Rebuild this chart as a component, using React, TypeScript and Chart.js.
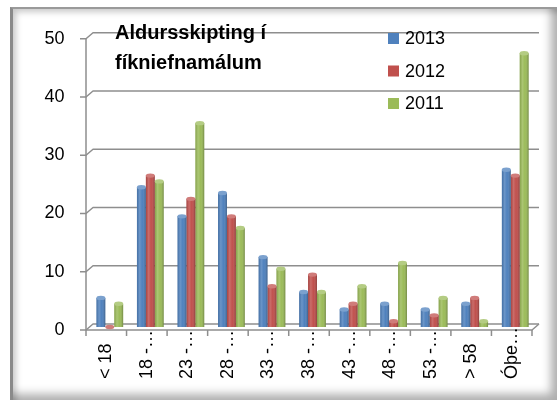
import React, { useEffect, useRef } from "react";
import { Chart, registerables } from "chart.js";

Chart.register(...registerables);

const categories = ["< 18", "18 -…", "23 -…", "28 -…", "33 -…", "38 -…", "43 -…", "48 -…", "53 -…", "> 58", "Óþe…"];
const seriesNames = ["2013", "2012", "2011"];
const values2013 = [5, 24, 19, 23, 12, 6, 3, 4, 3, 4, 27];
const values2012 = [0, 26, 22, 19, 7, 9, 4, 1, 2, 5, 26];
const values2011 = [4, 25, 35, 17, 10, 6, 7, 11, 5, 1, 47];
const seriesColors = ["#4F81BD", "#C0504D", "#9BBB59"];
const yTicks = [0, 10, 20, 30, 40, 50];
const titleLines = ["Aldursskipting í", "fíkniefnamálum"];

const FONT = "'Liberation Sans', Arial, sans-serif";
const DX = 3.5;
const DY = 3;

function lighten(hex: string, amt: number): string {
  const n = parseInt(hex.slice(1), 16);
  const r = (n >> 16) & 255, g = (n >> 8) & 255, b = n & 255;
  const f = (c: number) => Math.round(c + (255 - c) * amt);
  return `rgb(${f(r)},${f(g)},${f(b)})`;
}

const decorPlugin = {
  id: "decor3d",
  beforeDatasetsDraw(chart: any) {
    const { ctx, chartArea, scales } = chart;
    const { left, right } = chartArea;
    const x = scales.x, y = scales.y;
    ctx.save();
    ctx.strokeStyle = "#8e8e8e";
    ctx.lineWidth = 1.5;
    ctx.lineJoin = "round";
    yTicks.forEach((v) => {
      const ym = y.getPixelForValue(v);
      ctx.beginPath();
      ctx.moveTo(left - DX - 6, ym + DY);
      ctx.lineTo(left - DX, ym + DY);
      ctx.lineTo(left + DX, ym - DY);
      ctx.lineTo(right + DX, ym - DY);
      ctx.stroke();
    });
    const y0 = y.getPixelForValue(0);
    const yTop = y.getPixelForValue(yTicks[yTicks.length - 1]);
    ctx.beginPath();
    ctx.moveTo(left - DX, yTop + DY);
    ctx.lineTo(left - DX, y0 + DY);
    ctx.stroke();
    ctx.beginPath();
    ctx.moveTo(left - DX, y0 + DY);
    ctx.lineTo(right - DX, y0 + DY);
    ctx.lineTo(right + DX, y0 - DY);
    ctx.stroke();
    ctx.beginPath();
    for (let i = 0; i <= categories.length; i++) {
      const xb = x.getPixelForValue(i - 0.5) - DX;
      ctx.moveTo(xb, y0 + DY);
      ctx.lineTo(xb, y0 + DY + 6);
    }
    ctx.stroke();
    ctx.restore();
  },
  afterDatasetsDraw(chart: any) {
    const { ctx } = chart;
    ctx.save();
    chart.data.datasets.forEach((ds: any, di: number) => {
      const meta = chart.getDatasetMeta(di);
      const color = seriesColors[di];
      meta.data.forEach((el: any) => {
        const l = el.x - el.width / 2;
        const w = el.width;
        const h = el.base - el.y;
        const g = ctx.createLinearGradient(l, 0, l + w, 0);
        g.addColorStop(0, "rgba(0,0,0,0.12)");
        g.addColorStop(0.3, "rgba(255,255,255,0.16)");
        g.addColorStop(0.6, "rgba(255,255,255,0.0)");
        g.addColorStop(1, "rgba(0,0,0,0.28)");
        ctx.fillStyle = g;
        if (h > 0) ctx.fillRect(l, el.y, w, h);
        ctx.beginPath();
        ctx.ellipse(el.x, el.y, w / 2, 2.2, 0, 0, Math.PI * 2);
        ctx.fillStyle = lighten(color, 0.25);
        ctx.fill();
      });
    });
    ctx.restore();
  },
  afterDraw(chart: any) {
    const { ctx, scales } = chart;
    const x = scales.x;
    ctx.save();
    ctx.fillStyle = "#000";
    ctx.font = `18px ${FONT}`;
    ctx.textAlign = "left";
    ctx.textBaseline = "middle";
    categories.forEach((c, i) => {
      const cx = x.getPixelForValue(i) - DX;
      ctx.save();
      ctx.translate(cx, 379);
      ctx.rotate(-Math.PI / 2);
      ctx.fillText(c, 0, 0);
      ctx.restore();
    });
    ctx.font = `bold 20px ${FONT}`;
    ctx.textBaseline = "alphabetic";
    ctx.fillText(titleLines[0], 115, 39);
    ctx.fillText(titleLines[1], 115, 68.5);
    ctx.font = `18px ${FONT}`;
    ctx.textBaseline = "middle";
    seriesNames.forEach((s, i) => {
      const cy = 38.5 + i * 32.5;
      ctx.fillStyle = seriesColors[i];
      ctx.fillRect(388, cy - 5.5, 11, 11);
      ctx.fillStyle = "#000";
      ctx.fillText(s, 405, cy + 1);
    });
    ctx.restore();
  },
};

export default function App() {
  const ref = useRef<HTMLCanvasElement | null>(null);
  useEffect(() => {
    if (!ref.current) return;
    const chart = new Chart(ref.current, {
      type: "bar",
      data: {
        labels: categories,
        datasets: [values2013, values2012, values2011].map((vals, i) => ({
          label: seriesNames[i],
          data: vals,
          backgroundColor: seriesColors[i],
          borderWidth: 0,
          barPercentage: 1,
          categoryPercentage: 0.66,
        })),
      },
      options: {
        animation: false,
        responsive: false,
        maintainAspectRatio: false,
        layout: { padding: { top: 34.5, right: 21.5, bottom: 73, left: 0 } },
        plugins: { legend: { display: false }, title: { display: false }, tooltip: { enabled: false } },
        scales: {
          x: { display: false, offset: true },
          y: {
            min: 0,
            max: 50,
            afterFit: (s: any) => { s.width = 89.5; },
            grid: { display: false, drawTicks: false },
            border: { display: false },
            ticks: {
              stepSize: 10,
              padding: 25,
              labelOffset: 3,
              color: "#000",
              font: { family: FONT, size: 18 },
            },
          },
        },
      },
      plugins: [decorPlugin],
    });
    return () => chart.destroy();
  }, []);

  return (
    <div style={{ position: "absolute", left: 0, top: 0, width: 557, height: 400, background: "#fff", overflow: "hidden" }}>
      <div
        style={{
          position: "absolute",
          left: 10,
          top: 7,
          width: 547,
          height: 393,
          boxSizing: "border-box",
          borderLeft: "3px solid #8a8a8a",
          borderTop: "2px solid #9a9a9a",
          boxShadow: "inset 6px 6px 6px -3px rgba(0,0,0,0.22), inset -10px -10px 10px -4px rgba(0,0,0,0.32)",
          background: "#fff",
        }}
      />
      <canvas ref={ref} width={557} height={400} style={{ position: "absolute", left: 0, top: 0, width: 557, height: 400 }} />
    </div>
  );
}
